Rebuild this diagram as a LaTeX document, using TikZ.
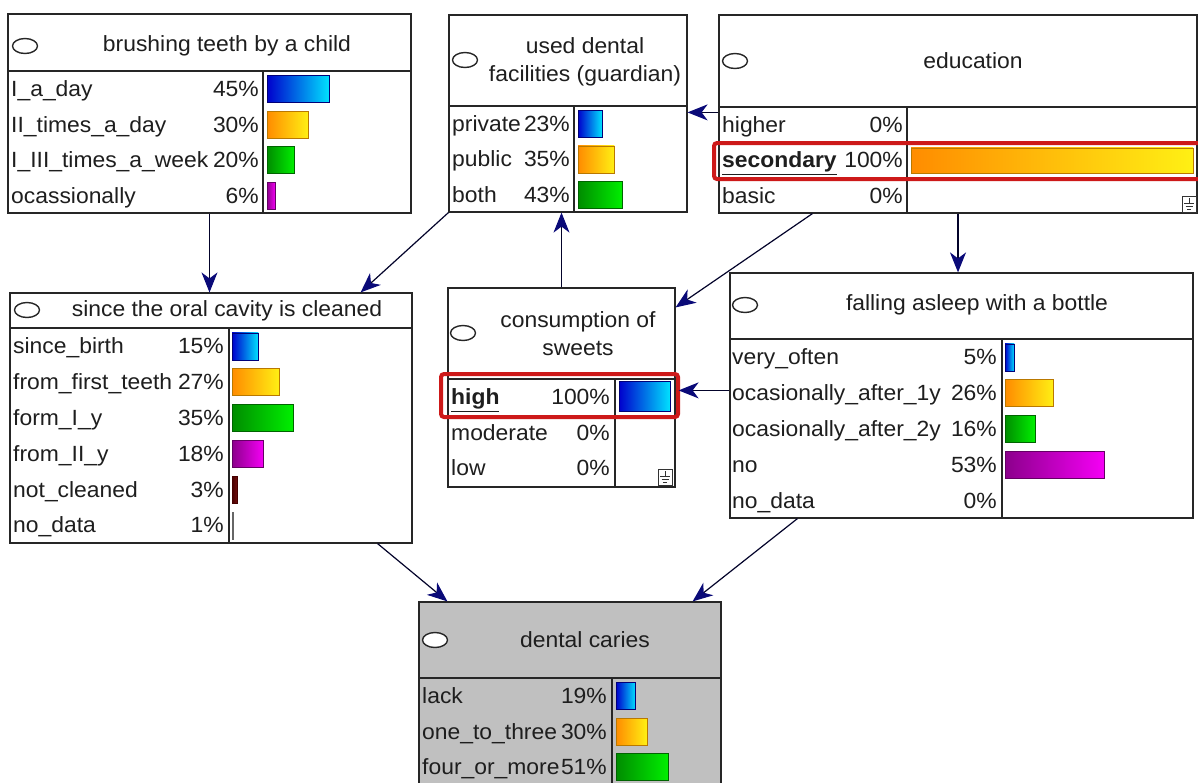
\documentclass[tikz,border=0pt]{standalone}
\usepackage{fontspec}
\setmainfont[FakeStretch=1.04]{Liberation Sans}
\usetikzlibrary{arrows.meta}
\usetikzlibrary{positioning,fit,calc,shapes.geometric}

\definecolor{linkBlue}{RGB}{10,10,120}
\definecolor{hiRed}{RGB}{205,25,25}
\definecolor{paneGray}{RGB}{192,192,192}
\definecolor{txtGray}{RGB}{30,30,30}
\definecolor{blueA}{RGB}{0,0,205}
\definecolor{blueB}{RGB}{0,225,255}
\definecolor{blueE}{RGB}{0,0,120}
\definecolor{orangeA}{RGB}{255,140,0}
\definecolor{orangeB}{RGB}{255,240,20}
\definecolor{orangeE}{RGB}{185,120,0}
\definecolor{greenA}{RGB}{0,140,0}
\definecolor{greenB}{RGB}{0,240,0}
\definecolor{greenE}{RGB}{0,100,0}
\definecolor{purpleA}{RGB}{140,0,140}
\definecolor{purpleB}{RGB}{245,0,245}
\definecolor{purpleE}{RGB}{100,0,100}
\definecolor{brownA}{RGB}{70,0,0}
\definecolor{brownB}{RGB}{115,15,15}

\tikzset{netbox/.style={draw=black!85, line width=1.2pt, inner sep=0pt, fill=white},
		grid/.style={draw=black!85, line width=1.2pt},
		cell/.style={inner sep=0pt, text=txtGray, font=\fontsize{22}{28}\selectfont},
		state/.style={cell, anchor=base west},
		prob/.style={cell, anchor=base east},
		title/.style={cell, align=center},
		bubble/.style={ellipse, draw=black!85, line width=1.4pt, minimum width=25pt,
		               minimum height=15pt, inner sep=0pt},
		link/.style={draw=black!65!linkBlue, line width=1.2pt,
		             -{Stealth[length=20pt,width=16pt,inset=6pt,color=linkBlue]}},
		marked/.style={draw=hiRed, line width=4pt, rounded corners=3pt},
		barBlue/.style={draw=blueE, line width=0.8pt, left color=blueA, right color=blueB},
		barOrange/.style={draw=orangeE, line width=0.8pt, left color=orangeA, right color=orangeB},
		barGreen/.style={draw=greenE, line width=0.8pt, left color=greenA, right color=greenB},
		barPurple/.style={draw=purpleE, line width=0.8pt, left color=purpleA, right color=purpleB},
		barBrown/.style={draw=brownA, line width=0.8pt, left color=brownA, right color=brownB},
		barGray/.style={draw=black!60, line width=0.8pt, fill=black!40},
		ground/.style={draw=black!80, line width=0.9pt}}

\begin{document}
\begin{tikzpicture}[x=1pt,y=-1pt]
	\useasboundingbox (0,0) rectangle (1198,782);
	\clip (0,0) rectangle (1198,782);

	%boxes
	\node [netbox, fit={(8,14) (411,213)}] (brush) {};
	\node [netbox, fit={(449,15) (687,212)}] (used) {};
	\node [netbox, fit={(719,15) (1197,213)}] (edu) {};
	\node [netbox, fit={(10,293) (412,543)}] (since) {};
	\node [netbox, fit={(448,288) (675,487)}] (cons) {};
	\node [netbox, fit={(730,273) (1193,518)}] (fall) {};
	\node [netbox, fill=paneGray, fit={(419,602) (721,830)}] (caries) {};

	%headers
	\draw [grid] (8,71) -- (411,71) (263,71) -- (263,213);
	\draw [grid] (449,106) -- (687,106) (574,106) -- (574,212);
	\draw [grid] (719,107) -- (1197,107) (907,107) -- (907,213);
	\draw [grid] (10,328) -- (412,328) (229,328) -- (229,543);
	\draw [grid] (448,379) -- (675,379) (615,379) -- (615,487);
	\draw [grid] (730,339) -- (1193,339) (1002,339) -- (1002,518);
	\draw [grid] (419,678) -- (721,678) (612,678) -- (612,830);

	\node [bubble] (brush-o) at (25,46) {};
	\node [title] (brush-t) at (227,46) {brushing teeth by a child};
	\node [bubble] (used-o) at (465,60) {};
	\node [title] (used-t) at (585,62) {used dental\\facilities (guardian)};
	\node [bubble] (edu-o) at (735,61) {};
	\node [title] (edu-t) at (973,61) {education};
	\node [bubble] (since-o) at (27,310) {};
	\node [title] (since-t) at (227,311) {since the oral cavity is cleaned};
	\node [bubble] (cons-o) at (463,333) {};
	\node [title] (cons-t) at (578,334) {consumption of\\sweets};
	\node [bubble] (fall-o) at (745,305) {};
	\node [title] (fall-t) at (977,305) {falling asleep with a bottle};
	\node [bubble, fill=white] (caries-o) at (435,640) {};
	\node [title] (caries-t) at (585,640) {dental caries};

	%states
	\foreach \st/\pc/\bcol [count=\i] in {I\_a\_day/45/barBlue, II\_times\_a\_day/30/barOrange,
			I\_III\_times\_a\_week/20/barGreen, ocassionally/6/barPurple}{
		\pgfmathsetmacro\y{71+(\i-0.5)*35.5}
		\node [state] (brush-s\i) at (11,\y+8) {\st};
		\node [prob] (brush-p\i) at (259,\y+8) {\pc\%};
		\filldraw [\bcol] (267,\y-13) rectangle ++({\pc*1.38},27);
	}
	\foreach \st/\pc/\bcol [count=\i] in {private/23/barBlue, public/35/barOrange, both/43/barGreen}{
		\pgfmathsetmacro\y{106+(\i-0.5)*35.3}
		\node [state] (used-s\i) at (452,\y+8) {\st};
		\node [prob] (used-p\i) at (570,\y+8) {\pc\%};
		\filldraw [\bcol] (578,\y-13) rectangle ++({\pc*1.04},27);
	}
	\foreach \st/\pc/\bcol [count=\i] in {higher/0/barBlue, {\textbf{\underline{secondary}}}/100/barOrange,
			basic/0/barGreen}{
		\pgfmathsetmacro\y{107+(\i-0.5)*35.3}
		\node [state] (edu-s\i) at (722,\y+8) {\st};
		\node [prob] (edu-p\i) at (903,\y+8) {\pc\%};
		\ifnum\pc>0 \filldraw [\bcol] (911,\y-12) rectangle ++({\pc*2.82},25); \fi
	}
	\foreach \st/\pc/\bcol [count=\i] in {since\_birth/15/barBlue, from\_first\_teeth/27/barOrange,
			form\_I\_y/35/barGreen, from\_II\_y/18/barPurple, not\_cleaned/3/barBrown, no\_data/1/barGray}{
		\pgfmathsetmacro\y{328+(\i-0.5)*35.8}
		\node [state] (since-s\i) at (13,\y+8) {\st};
		\node [prob] (since-p\i) at (224,\y+8) {\pc\%};
		\filldraw [\bcol] (232,\y-13) rectangle ++({\pc*1.75},27);
	}
	\foreach \st/\pc/\bcol [count=\i] in {{\textbf{\underline{high}}}/100/barBlue, moderate/0/barGreen,
			low/0/barOrange}{
		\pgfmathsetmacro\y{379+(\i-0.5)*35.5}
		\node [state] (cons-s\i) at (451,\y+8) {\st};
		\node [prob] (cons-p\i) at (610,\y+8) {\pc\%};
		\ifnum\pc>0 \filldraw [\bcol] (619,\y-15) rectangle ++({\pc*0.51},30); \fi
	}
	\foreach \st/\pc/\bcol [count=\i] in {very\_often/5/barBlue, ocasionally\_after\_1y/26/barOrange,
			ocasionally\_after\_2y/16/barGreen, no/53/barPurple, no\_data/0/barGray}{
		\pgfmathsetmacro\y{339+(\i-0.5)*35.8}
		\node [state] (fall-s\i) at (732,\y+8) {\st};
		\node [prob] (fall-p\i) at (997,\y+8) {\pc\%};
		\ifnum\pc>0 \filldraw [\bcol] (1005,\y-13) rectangle ++({\pc*1.87},27); \fi
	}
	\foreach \st/\pc/\bcol [count=\i] in {lack/19/barBlue, one\_to\_three/30/barOrange,
			four\_or\_more/51/barGreen}{
		\pgfmathsetmacro\y{678+(\i-0.5)*35.5}
		\node [state] (caries-s\i) at (422,\y+8) {\st};
		\node [prob] (caries-p\i) at (607,\y+8) {\pc\%};
		\filldraw [\bcol] (616,\y-13) rectangle ++({\pc*1.03},27);
	}

	%evidence
	\draw [marked] (714,143) rectangle (1204,179);
	\draw [marked] (441,374) rectangle (678,417);
	\draw [ground] (1182,196) rectangle (1196,212) (1189,198) -- (1189,203)
		(1184,203) -- (1194,203) (1185.5,206) -- (1192.5,206) (1187,209) -- (1191,209);
	\draw [ground] (658,469) rectangle (672,485) (665,471) -- (665,476)
		(660,476) -- (670,476) (661.5,479) -- (668.5,479) (663,482) -- (667,482);

	%edges
	\draw [link] (brush.south) -- (brush.south |- since.north);
	\draw [link] (used.south west) -- ($(since.north east)+(-52,0)$);
	\draw [link] (cons.north) -- (cons.north |- used.south);
	\draw [link] ($(edu.north west)+(0,98)$) -- ($(used.north east)+(0,98)$);
	\draw [link] ($(edu.south west)+(94,0)$) -- ($(cons.north east)+(0,20)$);
	\draw [link] (edu.south) -- (edu.south |- fall.north);
	\draw [link] ($(fall.north west)+(0,118)$) -- ($(cons.north east)+(3,103)$);
	\draw [link] ($(since.south east)+(-35,0)$) -- ($(caries.north west)+(29,0)$);
	\draw [link] ($(fall.south west)+(68,0)$) -- ($(caries.north east)+(-29,0)$);
\end{tikzpicture}
\end{document}
